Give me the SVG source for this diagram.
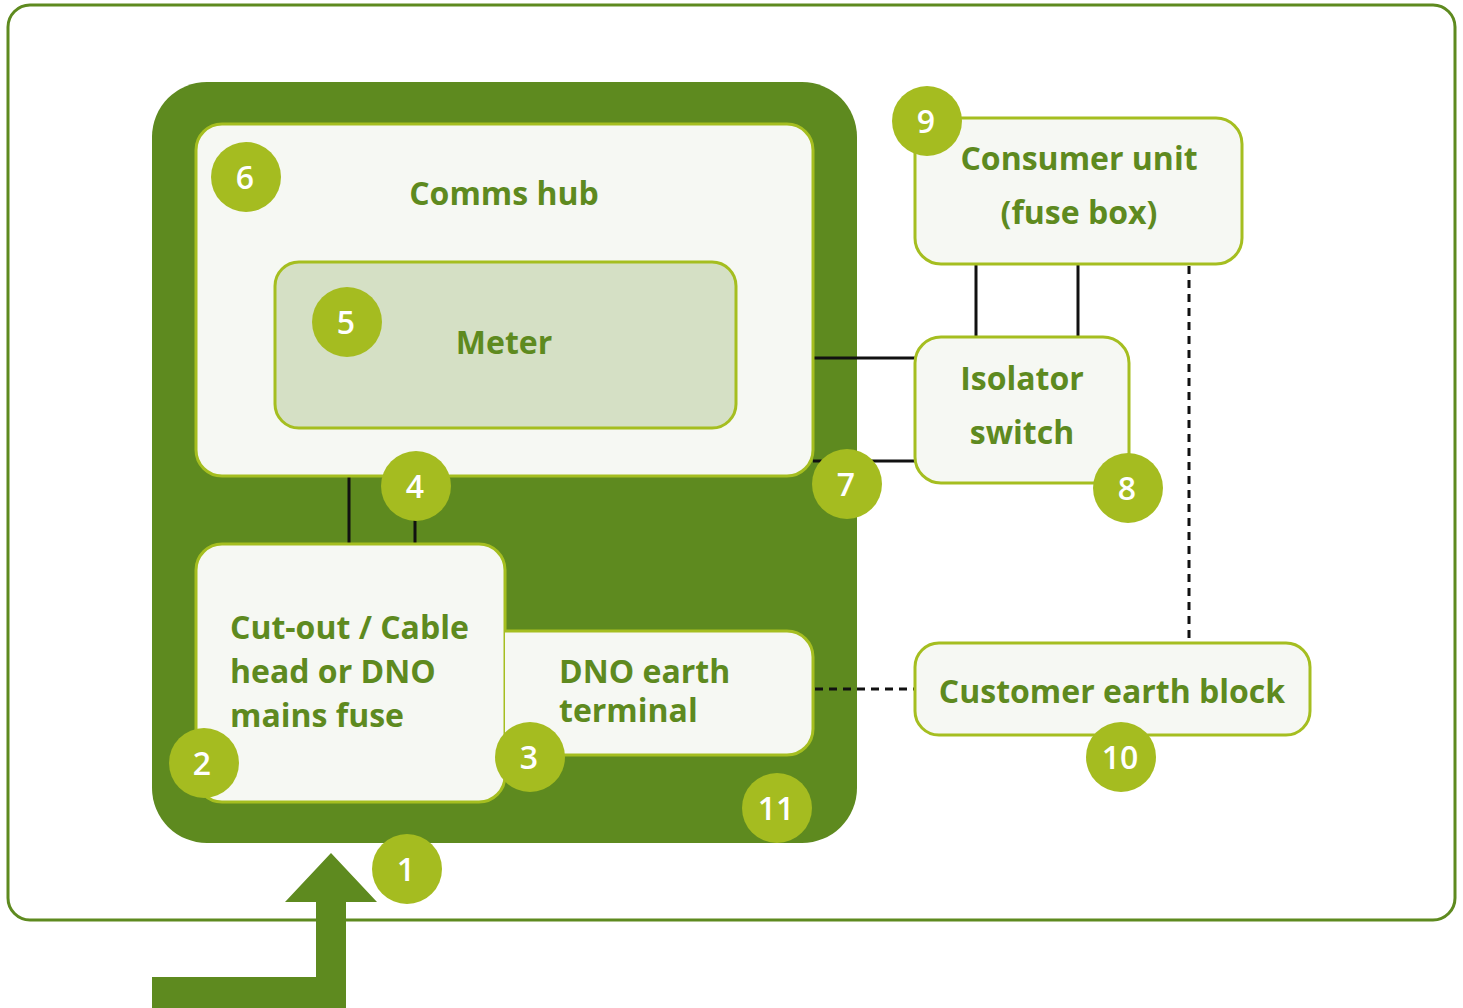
<svg xmlns="http://www.w3.org/2000/svg" width="1463" height="1008" viewBox="0 0 1463 1008">
  <style>
    .node { fill: #f6f8f3; stroke: #a5be20; stroke-width: 3; }
    .meter { fill: #d5e0c5; stroke: #a5be20; stroke-width: 3; }
    .lbl { font-family: "Open Sans", "Noto Sans", sans-serif; font-weight: 700; font-size: 32px; fill: #5e8a1f; }
    .mid { text-anchor: middle; }
    .badge circle { fill: #a5bc20; }
    .badge text { font-family: "Open Sans", "Noto Sans", sans-serif; font-weight: 600; font-size: 32px; fill: #ffffff; text-anchor: middle; }
    .wire { stroke: #111111; stroke-width: 3; fill: none; }
    .dash { stroke: #111111; stroke-width: 3; fill: none; stroke-dasharray: 8 6; }
  </style>

  <!-- outer frame -->
  <rect x="8" y="5" width="1447" height="915" rx="22" fill="#ffffff" stroke="#5e8a1f" stroke-width="3"/>

  <!-- meter enclosure (11) -->
  <g id="enclosure">
    <rect x="152" y="82" width="705" height="761" rx="55" fill="#5e8a1f"/>
  </g>

  <!-- incoming supply arrow -->
  <g id="supply">
    <polygon points="331,853 377,902 346,902 346,1008 152,1008 152,977 316,977 316,902 285,902" fill="#5e8a1f"/>
  </g>

  <g id="connectors">
    <line class="wire" x1="349" y1="428" x2="349" y2="543"/>
    <line class="wire" x1="415" y1="428" x2="415" y2="543"/>
    <line class="wire" x1="813" y1="358" x2="915" y2="358"/>
    <line class="wire" x1="813" y1="461" x2="915" y2="461"/>
    <line class="wire" x1="976" y1="264" x2="976" y2="337"/>
    <line class="wire" x1="1078" y1="264" x2="1078" y2="337"/>
    <line class="dash" x1="1189" y1="266" x2="1189" y2="643"/>
    <line class="dash" x1="815" y1="689" x2="914" y2="689"/>
  </g>

  <g id="comms-hub">
    <rect class="node" x="196" y="124" width="617" height="352" rx="26"/>
    <text class="lbl mid" x="504" y="205">Comms hub</text>
  </g>

  <g id="meter">
    <rect class="meter" x="275" y="262" width="461" height="166" rx="24"/>
    <text class="lbl mid" x="504" y="354">Meter</text>
  </g>

  <g id="cut-out">
    <rect class="node" x="196" y="544" width="309" height="258" rx="26"/>
    <text class="lbl" x="230" y="639">Cut-out / Cable</text>
    <text class="lbl" x="230" y="683">head or DNO</text>
    <text class="lbl" x="230" y="727">mains fuse</text>
  </g>

  <g id="dno-earth">
    <path class="node" d="M505,631 H787 A26,26 0 0 1 813,657 V729 A26,26 0 0 1 787,755 H505"/>
    <text class="lbl" x="559" y="683">DNO earth</text>
    <text class="lbl" x="559" y="722">terminal</text>
  </g>

  <g id="consumer-unit">
    <rect class="node" x="915" y="118" width="327" height="146" rx="26"/>
    <text class="lbl mid" x="1079" y="170">Consumer unit</text>
    <text class="lbl mid" x="1079" y="224">(fuse box)</text>
  </g>

  <g id="isolator">
    <rect class="node" x="915" y="337" width="214" height="146" rx="26"/>
    <text class="lbl mid" x="1022" y="390">Isolator</text>
    <text class="lbl mid" x="1022" y="444">switch</text>
  </g>

  <g id="earth-block">
    <rect class="node" x="915" y="643" width="395" height="92" rx="24"/>
    <text class="lbl mid" x="1112" y="703">Customer earth block</text>
  </g>

  <!-- numbered badges -->
  <g id="badge-1" class="badge"><circle cx="407" cy="869" r="35"/><text x="406" y="881">1</text></g>
  <g id="badge-2" class="badge"><circle cx="204" cy="763" r="35"/><text x="202" y="775">2</text></g>
  <g id="badge-3" class="badge"><circle cx="530" cy="757" r="35"/><text x="529" y="769">3</text></g>
  <g id="badge-4" class="badge"><circle cx="416" cy="486" r="35"/><text x="415" y="498">4</text></g>
  <g id="badge-5" class="badge"><circle cx="347" cy="322" r="35"/><text x="346" y="334">5</text></g>
  <g id="badge-6" class="badge"><circle cx="246" cy="177" r="35"/><text x="245" y="189">6</text></g>
  <g id="badge-7" class="badge"><circle cx="847" cy="484" r="35"/><text x="846" y="496">7</text></g>
  <g id="badge-8" class="badge"><circle cx="1128" cy="488" r="35"/><text x="1127" y="500">8</text></g>
  <g id="badge-9" class="badge"><circle cx="927" cy="121" r="35"/><text x="926" y="133">9</text></g>
  <g id="badge-10" class="badge"><circle cx="1121" cy="757" r="35"/><text x="1120" y="769">10</text></g>
  <g id="badge-11" class="badge"><circle cx="777" cy="808" r="35"/><text x="776" y="820">11</text></g>
</svg>
